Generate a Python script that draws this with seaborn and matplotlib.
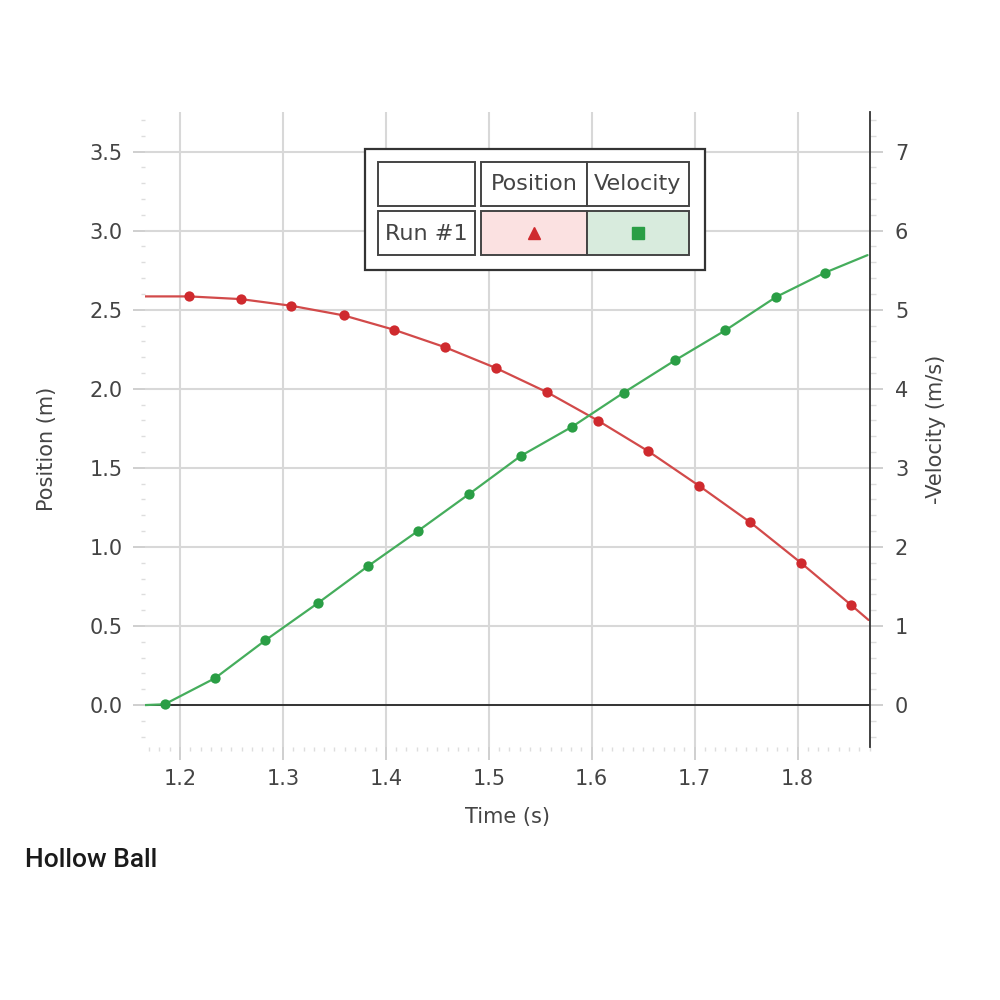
import matplotlib
matplotlib.use("Agg")
import matplotlib.pyplot as plt
from matplotlib.patches import Rectangle
from matplotlib.ticker import MultipleLocator, FormatStrFormatter
import seaborn as sns
import pandas as pd

# ---- data ----
pos_time = [1.209, 1.259, 1.308, 1.359, 1.408, 1.457, 1.507, 1.557, 1.606, 1.655, 1.704, 1.754, 1.803, 1.852]
position = [2.584, 2.567, 2.525, 2.464, 2.373, 2.264, 2.131, 1.977, 1.799, 1.605, 1.388, 1.156, 0.901, 0.633]
vel_time = [1.185, 1.234, 1.283, 1.334, 1.383, 1.431, 1.481, 1.531, 1.581, 1.631, 1.681, 1.730, 1.779, 1.827]
velocity = [0.01, 0.34, 0.82, 1.29, 1.76, 2.20, 2.67, 3.15, 3.52, 3.95, 4.36, 4.74, 5.16, 5.47]
# curve ends (line extends past first/last sample)
pos_line_time = [1.166] + pos_time + [1.869]
pos_line = [2.584] + position + [0.538]
vel_line_time = [1.166] + vel_time + [1.868]
vel_line = [0.0] + velocity + [5.69]

x_ticks = [1.2, 1.3, 1.4, 1.5, 1.6, 1.7, 1.8]
left_ticks = [0.0, 0.5, 1.0, 1.5, 2.0, 2.5, 3.0, 3.5]
right_ticks = [0, 1, 2, 3, 4, 5, 6, 7]
title_text = "Hollow Ball"
legend_cols = ["Position", "Velocity"]
legend_row = "Run #1"

RED = "#cf2a2e"
RED_LINE = "#d24a4a"
GREEN = "#2a9e45"
GREEN_LINE = "#45ad5c"
TXT = "#444444"
GRID = "#d8d8d8"

sns.set_theme(style="white")
plt.rcParams["font.family"] = ["DejaVu Sans"]

fig = plt.figure(figsize=(10, 10), dpi=100)
ax = fig.add_axes([0.145, 0.253, 0.725, 0.635])
ax2 = ax.twinx()

pos_df = pd.DataFrame({"t": pos_time, "v": position})
pos_line_df = pd.DataFrame({"t": pos_line_time, "v": pos_line})
vel_df = pd.DataFrame({"t": vel_time, "v": velocity})
vel_line_df = pd.DataFrame({"t": vel_line_time, "v": vel_line})

# grid
ax.set_xticks(x_ticks)
ax.set_yticks(left_ticks)
ax.grid(True, color=GRID, linewidth=1.5)
ax.set_axisbelow(True)
ax.axhline(0, color="#333333", linewidth=1.4, zorder=2)

sns.lineplot(data=pos_line_df, x="t", y="v", ax=ax, color=RED_LINE, linewidth=1.6, zorder=3, sort=False)
sns.scatterplot(data=pos_df, x="t", y="v", ax=ax, color=RED, s=55, edgecolor=RED, linewidth=0, zorder=4)
sns.lineplot(data=vel_line_df, x="t", y="v", ax=ax2, color=GREEN_LINE, linewidth=1.6, zorder=3, sort=False)
sns.scatterplot(data=vel_df, x="t", y="v", ax=ax2, color=GREEN, s=55, edgecolor=GREEN, linewidth=0, zorder=4)

ax.set_xlim(1.166, 1.8704)
ax.set_ylim(-0.265, 3.75)
ax2.set_ylim(-0.53, 7.5)
ax2.set_yticks(right_ticks)
ax.yaxis.set_major_formatter(FormatStrFormatter("%.1f"))
ax.xaxis.set_major_formatter(FormatStrFormatter("%.1f"))
ax.yaxis.set_minor_locator(MultipleLocator(0.1))
ax.xaxis.set_minor_locator(MultipleLocator(0.01))
ax2.yaxis.set_minor_locator(MultipleLocator(0.2))

for s in ["left", "top", "bottom", "right"]:
    ax.spines[s].set_visible(False)
for s in ["left", "top", "bottom"]:
    ax2.spines[s].set_visible(False)
ax2.spines["right"].set_visible(True)
ax2.spines["right"].set_color("#333333")
ax2.spines["right"].set_linewidth(1.3)

ax.tick_params(axis="both", which="major", labelsize=15, labelcolor=TXT,
               color="#cccccc", length=9, width=1.3, pad=7)
ax.tick_params(axis="both", which="minor", color="#dddddd", length=3, width=1)
ax.tick_params(axis="y", which="both", left=True, right=False)
ax.tick_params(axis="x", which="both", bottom=True, top=False)
ax2.tick_params(axis="y", which="major", labelsize=15, labelcolor=TXT,
                color="#cccccc", length=9, width=1.3, pad=9, right=True)
ax2.tick_params(axis="y", which="minor", color="#dddddd", length=4, width=1, right=True)

ax.set_xlabel("Time (s)", fontsize=15, color=TXT, labelpad=13)
ax.set_ylabel("Position (m)", fontsize=15, color=TXT)
ax2.set_ylabel("-Velocity (m/s)", fontsize=15, color=TXT, rotation=90)
ax.yaxis.set_label_coords(-0.121, 0.47)
ax2.yaxis.set_label_coords(1.077, 0.50)

# ---- table-style legend (figure pixel coords -> fractions) ----
def px_rect(x0, y0, x1, y1, **kw):
    r = Rectangle((x0 / 1000, 1 - y1 / 1000), (x1 - x0) / 1000, (y1 - y0) / 1000,
                  transform=fig.transFigure, **kw)
    fig.add_artist(r)

px_rect(365, 149, 705, 270, facecolor="white", edgecolor="#333333", linewidth=1.6, zorder=10)
cell_kw = dict(edgecolor="#444444", linewidth=1.4, zorder=11)
px_rect(378, 162, 475, 206, facecolor="white", **cell_kw)
px_rect(481, 162, 587, 206, facecolor="white", **cell_kw)
px_rect(587, 162, 689, 206, facecolor="white", **cell_kw)
px_rect(378, 211, 475, 255, facecolor="white", **cell_kw)
px_rect(481, 211, 587, 255, facecolor="#fbe1e1", **cell_kw)
px_rect(587, 211, 689, 255, facecolor="#d8ebdd", **cell_kw)

fig.text(534 / 1000, 1 - 184 / 1000, legend_cols[0], ha="center", va="center",
         fontsize=16, color=TXT, zorder=12)
fig.text(638 / 1000, 1 - 184 / 1000, legend_cols[1], ha="center", va="center",
         fontsize=16, color=TXT, zorder=12)
fig.text(426 / 1000, 1 - 234 / 1000, legend_row, ha="center", va="center",
         fontsize=16, color=TXT, zorder=12)
fig.add_artist(plt.Line2D([534 / 1000], [1 - 233 / 1000], marker="^", markersize=9,
                          color=RED, linestyle="none", transform=fig.transFigure, zorder=12))
fig.add_artist(plt.Line2D([638 / 1000], [1 - 233 / 1000], marker="s", markersize=9,
                          color=GREEN, linestyle="none", transform=fig.transFigure, zorder=12))

fig.text(0.025, 1 - 860 / 1000, title_text, ha="left", va="center", fontsize=19,
         color="#1a1a1a", family=["Roboto", "DejaVu Sans"], fontweight="medium")

fig.savefig("out.png", dpi=100, facecolor="white")
